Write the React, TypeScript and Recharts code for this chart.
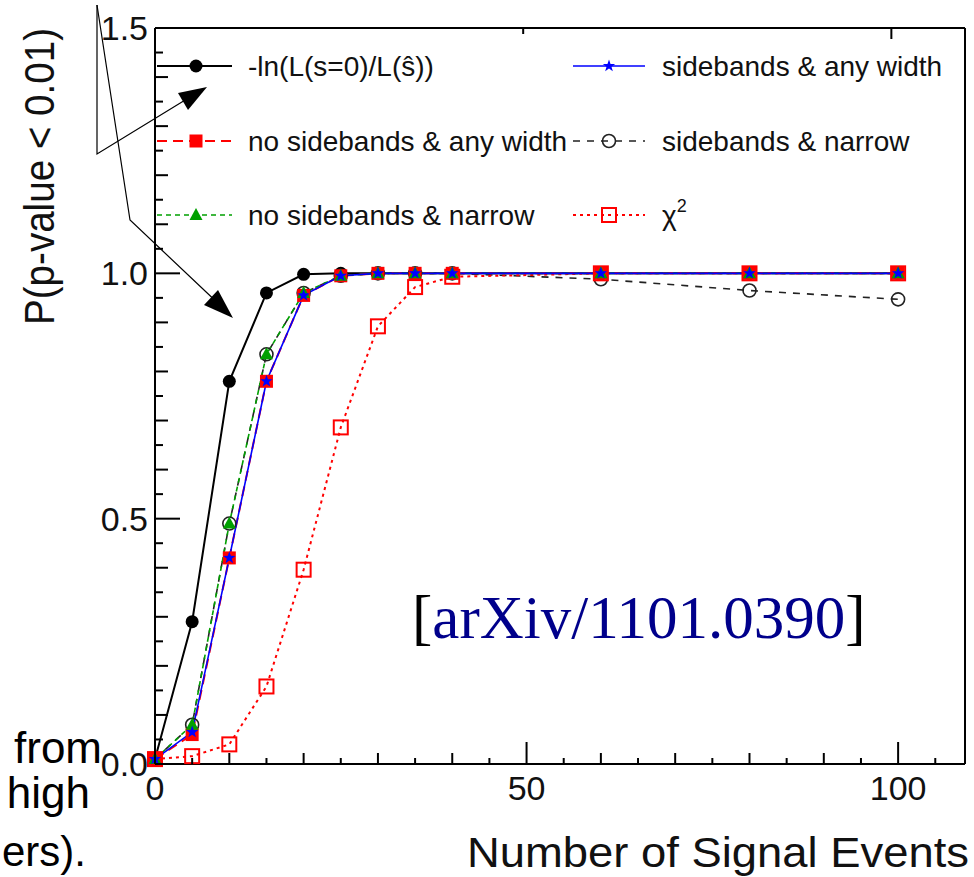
import { LineChart, Line, XAxis, YAxis, Legend } from 'recharts';

// number of signal events (x) and P(p-value < 0.01) per method
const signalEvents = [0, 5, 10, 15, 20, 25, 30, 35, 40, 60, 80, 100];
const lnRatio = [0.01, 0.29, 0.78, 0.96, 0.998, 1, 1, 1, 1, 1, 1, 1];
const noSbAnyWidth = [0.01, 0.06, 0.42, 0.78, 0.955, 0.995, 1, 1, 1, 1, 1, 1];
const noSbNarrow = [0.01, 0.08, 0.49, 0.835, 0.96, 0.995, 1, 1, 1, 1, 1, 1];
const sbAnyWidth = [0.01, 0.065, 0.42, 0.78, 0.955, 0.995, 1, 1, 1, 1, 1, 1];
const sbNarrow = [0.01, 0.08, 0.49, 0.835, 0.96, 0.995, 1, 1, 1, 0.988, 0.965, 0.947];
const chiSquare = [0.01, 0.016, 0.04, 0.158, 0.396, 0.686, 0.892, 0.972, 0.993, 1, 1, 1];

const xMajorTicks = [0, 50, 100];
const yMajorTicks = [0, 0.5, 1.0, 1.5];
const xTicks = Array.from({ length: 22 }, (_, i) => i * 5);
const yTicks = Array.from({ length: 31 }, (_, i) => +(i * 0.05).toFixed(2));

const rows = signalEvents.map((x, i) => ({
  x,
  ln: lnRatio[i],
  noSbAny: noSbAnyWidth[i],
  noSbNarrow: noSbNarrow[i],
  sbAny: sbAnyWidth[i],
  sbNarrow: sbNarrow[i],
  chi2: chiSquare[i],
}));

const SANS = '"Liberation Sans", Arial, Helvetica, sans-serif';

const yTickLen = (v: number) => (yMajorTicks.includes(v) ? 25 : Math.round(v * 100) % 10 === 0 ? 13 : 8);
const xTickLen = (v: number) => (xMajorTicks.includes(v) ? 22 : v % 10 === 0 ? 11 : 6);

const LeftTick = (p: any) => {
  const v = p.payload.value;
  return (
    <g>
      <line x1={p.x} y1={p.y} x2={p.x + yTickLen(v)} y2={p.y} stroke="#000" strokeWidth={2} />
      {yMajorTicks.includes(v) && (
        <text x={p.x - 7} y={p.y + 12} textAnchor="end" fontSize={34} fontFamily={SANS} fill="#111">
          {v.toFixed(1)}
        </text>
      )}
    </g>
  );
};

const RightTick = (p: any) => (
  <line x1={p.x} y1={p.y} x2={p.x - yTickLen(p.payload.value)} y2={p.y} stroke="#000" strokeWidth={2} />
);

const BottomTick = (p: any) => {
  const v = p.payload.value;
  return (
    <g>
      <line x1={p.x} y1={p.y} x2={p.x} y2={p.y - xTickLen(v)} stroke="#000" strokeWidth={2} />
      {xMajorTicks.includes(v) && (
        <text x={p.x} y={p.y + 36} textAnchor="middle" fontSize={34} fontFamily={SANS} fill="#111">
          {v}
        </text>
      )}
    </g>
  );
};

const TopTick = (p: any) => (
  <line x1={p.x} y1={p.y} x2={p.x} y2={p.y + xTickLen(p.payload.value)} stroke="#000" strokeWidth={2} />
);

// markers
const dotCircle = (cx: number, cy: number) => <circle cx={cx} cy={cy} r={6.5} fill="#000" />;
const dotSquare = (cx: number, cy: number) => <rect x={cx - 6.5} y={cy - 6.5} width={13} height={13} fill="#ff0000" />;
const dotTriangle = (cx: number, cy: number) => (
  <polygon points={`${cx},${cy - 7} ${cx - 6.5},${cy + 5} ${cx + 6.5},${cy + 5}`} fill="#00a000" />
);
const dotStar = (cx: number, cy: number) => {
  const pts: string[] = [];
  for (let k = 0; k < 10; k++) {
    const r = k % 2 === 0 ? 6.5 : 2.6;
    const a = -Math.PI / 2 + (k * Math.PI) / 5;
    pts.push(`${cx + r * Math.cos(a)},${cy + r * Math.sin(a)}`);
  }
  return <polygon points={pts.join(' ')} fill="#0000ff" />;
};
const dotOpenCircle = (cx: number, cy: number) => (
  <circle cx={cx} cy={cy} r={6.5} fill="none" stroke="#222" strokeWidth={1.6} />
);
const dotOpenSquare = (cx: number, cy: number) => (
  <rect x={cx - 7} y={cy - 7} width={14} height={14} fill="none" stroke="#ff0000" strokeWidth={2} />
);

const asDot = (fn: (cx: number, cy: number) => any) => (p: any) => <g key={p.key}>{fn(p.cx, p.cy)}</g>;

const series = [
  { key: 'ln', name: '-ln(L(s=0)/L(ŝ))', color: '#000', width: 2, dash: undefined, mark: dotCircle, col: 0, row: 0 },
  { key: 'sbNarrow', name: 'sidebands & narrow', color: '#222', width: 1.6, dash: '7 7', mark: dotOpenCircle, col: 1, row: 1 },
  { key: 'chi2', name: 'χ', color: '#ff0000', width: 2, dash: '3 4', mark: dotOpenSquare, col: 1, row: 2 },
  { key: 'noSbAny', name: 'no sidebands & any width', color: '#ff0000', width: 2, dash: '10 6', mark: dotSquare, col: 0, row: 1 },
  { key: 'noSbNarrow', name: 'no sidebands & narrow', color: '#00a000', width: 1.6, dash: '5 4', mark: dotTriangle, col: 0, row: 2 },
  { key: 'sbAny', name: 'sidebands & any width', color: '#0000ff', width: 1.6, dash: undefined, mark: dotStar, col: 1, row: 0 },
];

const legendCols = [
  { x1: 157, x2: 232, mx: 196, tx: 248 },
  { x1: 573, x2: 645, mx: 609, tx: 662 },
];
const legendRows = [66, 141, 215];

const LegendBox = () => (
  <svg width={974} height={300} style={{ position: 'absolute', left: 0, top: 0 }}>
    {series.map((s) => {
      const c = legendCols[s.col];
      const y = legendRows[s.row];
      return (
        <g key={s.key}>
          <line x1={c.x1} x2={c.x2} y1={y} y2={y} stroke={s.color} strokeWidth={s.width} strokeDasharray={s.dash} />
          {s.mark(c.mx, y)}
          <text x={c.tx} y={y + 10} fontSize={28} fontFamily={SANS} fill="#111">
            {s.name}
            {s.key === 'chi2' && (
              <tspan dy={-13} fontSize={18}>
                2
              </tspan>
            )}
          </text>
        </g>
      );
    })}
  </svg>
);

const axisLine = { stroke: '#000', strokeWidth: 2 };

export default function App() {
  return (
    <div style={{ position: 'absolute', left: 0, top: 0, width: 974, height: 877, background: '#fff' }}>
      <LineChart width={974} height={877} data={rows} margin={{ top: 27, right: 8, bottom: 112, left: 154 }}>
        <XAxis
          xAxisId="b"
          dataKey="x"
          type="number"
          domain={[0, 109]}
          ticks={xTicks}
          interval={0}
          height={1}
          tickSize={0}
          tickMargin={0}
          tickLine={false}
          tick={BottomTick}
          axisLine={axisLine}
          label={{
            content: () => (
              <text
                x={969}
                y={867}
                textAnchor="end"
                fontSize={43}
                fontFamily={SANS}
                fill="#111"
                textLength={502}
                lengthAdjust="spacingAndGlyphs"
              >
                Number of Signal Events
              </text>
            ),
          }}
        />
        <XAxis
          xAxisId="t"
          orientation="top"
          type="number"
          domain={[0, 109]}
          ticks={xTicks}
          interval={0}
          height={1}
          tickSize={0}
          tickMargin={0}
          tickLine={false}
          tick={TopTick}
          axisLine={axisLine}
        />
        <YAxis
          yAxisId="l"
          type="number"
          domain={[0, 1.5]}
          ticks={yTicks}
          interval={0}
          width={1}
          tickSize={0}
          tickMargin={0}
          tickLine={false}
          tick={LeftTick}
          axisLine={axisLine}
          label={{
            content: () => (
              <text
                x={54}
                y={28}
                transform="rotate(-90, 54, 28)"
                textAnchor="end"
                fontSize={42}
                fontFamily={SANS}
                fill="#111"
                textLength={297}
                lengthAdjust="spacingAndGlyphs"
              >
                P(p-value &lt; 0.01)
              </text>
            ),
          }}
        />
        <YAxis
          yAxisId="r"
          orientation="right"
          type="number"
          domain={[0, 1.5]}
          ticks={yTicks}
          interval={0}
          width={1}
          tickSize={0}
          tickMargin={0}
          tickLine={false}
          tick={RightTick}
          axisLine={axisLine}
        />
        <Legend
          layout="horizontal"
          verticalAlign="middle"
          align="center"
          wrapperStyle={{ position: 'absolute', left: 0, top: 0, width: 974, height: 300, pointerEvents: 'none' }}
          content={() => <LegendBox />}
        />
        {series.map((s) => (
          <Line
            key={s.key}
            xAxisId="b"
            yAxisId="l"
            type="linear"
            dataKey={s.key}
            stroke={s.color}
            strokeWidth={s.width}
            strokeDasharray={s.dash}
            dot={asDot(s.mark)}
            activeDot={false}
            isAnimationActive={false}
          />
        ))}
      </LineChart>
      <svg width={974} height={877} style={{ position: 'absolute', left: 0, top: 0, pointerEvents: 'none' }}>
        <polyline points="97,5 97,154 195,94" fill="none" stroke="#000" strokeWidth={1.2} />
        <polygon points="207,87 188,110 178,93" fill="#000" />
        <polyline points="97,5 130,220 222,307" fill="none" stroke="#000" strokeWidth={1.2} />
        <polygon points="233,318 204,305 218,290" fill="#000" />
        <g fontFamily={SANS} fill="#000" textAnchor="end">
          <text x={102} y={763} fontSize={44}>from</text>
          <text x={90} y={808} fontSize={44}>high</text>
          <text x={86} y={866} fontSize={42}>ers).</text>
        </g>
        <text x={412} y={638} fontSize={61} fontFamily='"Liberation Serif", "Times New Roman", serif' fill="#000">
          [<tspan fill="#00008b">arXiv/1101.0390</tspan>]
        </text>
      </svg>
    </div>
  );
}
